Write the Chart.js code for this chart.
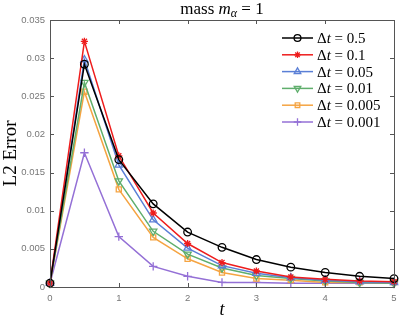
<!DOCTYPE html>
<html>
<head>
<meta charset="utf-8">
<script src="https://cdn.jsdelivr.net/npm/chart.js@4.4.1/dist/chart.umd.min.js"></script>
<style>
  html, body { margin: 0; padding: 0; background: #fff; }
  #wrap { width: 399px; height: 322px; }
</style>
</head>
<body>
<div id="wrap"><canvas id="chart" width="399" height="322"></canvas></div>
<script>
// time points
const tValues = [0, 0.5, 1, 1.5, 2, 2.5, 3, 3.5, 4, 4.5, 5];

// L2 error for each step size
const err05   = [0.0005, 0.0292, 0.0167, 0.0109, 0.0072, 0.0052, 0.0036, 0.0026, 0.0019, 0.0014, 0.0011];
const err01   = [0.0005, 0.0322, 0.0172, 0.0097, 0.0057, 0.0032, 0.0021, 0.0013, 0.0010, 0.0008, 0.0007];
const err005  = [0.0005, 0.0298, 0.0160, 0.0088, 0.0051, 0.0028, 0.0018, 0.0012, 0.0009, 0.0007, 0.0006];
const err001  = [0.0005, 0.0268, 0.0139, 0.0073, 0.0043, 0.0025, 0.0015, 0.0011, 0.0008, 0.0006, 0.0005];
const err0005 = [0.0005, 0.0256, 0.0128, 0.0065, 0.0037, 0.0019, 0.0011, 0.0009, 0.0006, 0.0006, 0.0006];
const err0001 = [0.0005, 0.0176, 0.0066, 0.0027, 0.0014, 0.0006, 0.0006, 0.0005, 0.0005, 0.0005, 0.0005];

const stepLabels = ["0.5", "0.1", "0.05", "0.01", "0.005", "0.001"];
const xTicks = [0, 1, 2, 3, 4, 5];
const yTicks = [0, 0.005, 0.01, 0.015, 0.02, 0.025, 0.03, 0.035];

const seriesList = [err05, err01, err005, err001, err0005, err0001];
const colors = ["#000000", "#ee1c1c", "#5a7fd6", "#5fae6c", "#f5a442", "#9470d6"];
const markers = ["circle", "star", "triangle", "triangle", "rect", "cross"];
const rotations = [0, 0, 0, 180, 0, 0];
const radii = [3.8, 3.6, 4.2, 4.2, 3.6, 4.2];

const serif = "'Liberation Serif', 'DejaVu Serif', serif";
const tickFont = "'Liberation Sans', Arial, sans-serif";

const datasets = seriesList.map((vals, i) => ({
  label: "Δt = " + stepLabels[i],
  data: vals.map((v, j) => ({ x: tValues[j], y: v })),
  borderColor: colors[i],
  backgroundColor: "rgba(0,0,0,0)",
  pointBackgroundColor: "rgba(0,0,0,0)",
  pointBorderColor: colors[i],
  pointStyle: markers[i],
  pointRotation: rotations[i],
  pointRadius: radii[i],
  pointBorderWidth: 1.3,
  borderWidth: 1.5,
  tension: 0,
  clip: false
}));

// box around plot area with inward ticks, title and legend
const decorations = {
  id: "decorations",
  afterDatasetsDraw(chart) {
    const ctx = chart.ctx;
    const a = chart.chartArea;
    const xs = chart.scales.x, ys = chart.scales.y;
    ctx.save();
    ctx.strokeStyle = "#555";
    ctx.lineWidth = 1;
    ctx.strokeRect(Math.round(a.left) + 0.5, Math.round(a.top) + 0.5,
      Math.round(a.right - a.left), Math.round(a.bottom - a.top));
    ctx.beginPath();
    xTicks.forEach(v => {
      const px = Math.round(xs.getPixelForValue(v)) + 0.5;
      ctx.moveTo(px, a.bottom); ctx.lineTo(px, a.bottom - 4);
      ctx.moveTo(px, a.top); ctx.lineTo(px, a.top + 4);
    });
    yTicks.forEach(v => {
      const py = Math.round(ys.getPixelForValue(v)) + 0.5;
      ctx.moveTo(a.left, py); ctx.lineTo(a.left + 4, py);
      ctx.moveTo(a.right, py); ctx.lineTo(a.right - 4, py);
    });
    ctx.stroke();

    // title: mass m_α = 1
    ctx.fillStyle = "#000";
    ctx.textBaseline = "alphabetic";
    const parts = [
      { t: "mass ", f: "17px " + serif, dy: 0 },
      { t: "m", f: "italic 17px " + serif, dy: 0 },
      { t: "α", f: "italic 12px " + serif, dy: 3 },
      { t: " = 1", f: "17px " + serif, dy: 0 }
    ];
    let total = 0;
    parts.forEach(p => { ctx.font = p.f; p.w = ctx.measureText(p.t).width; total += p.w; });
    let tx = (a.left + a.right) / 2 - total / 2;
    parts.forEach(p => {
      ctx.font = p.f;
      ctx.fillText(p.t, tx, 14 + p.dy);
      tx += p.w;
    });

    // legend
    const lx0 = 282, lx1 = 313, ly0 = 38, dyRow = 16.8;
    chart.data.datasets.forEach((ds, i) => {
      const y = ly0 + i * dyRow;
      ctx.strokeStyle = colors[i];
      ctx.lineWidth = 1.5;
      ctx.beginPath();
      ctx.moveTo(lx0, y); ctx.lineTo(lx1, y);
      ctx.stroke();
      ctx.fillStyle = "rgba(0,0,0,0)";
      ctx.lineWidth = 1.3;
      Chart.helpers.drawPoint(ctx, {
        pointStyle: markers[i], radius: radii[i] * 0.9, rotation: rotations[i], borderWidth: 1.3
      }, (lx0 + lx1) / 2, y);
      ctx.fillStyle = "#000";
      ctx.textBaseline = "middle";
      let x = 317;
      const segs = [
        { t: "Δ", f: "15px " + serif },
        { t: "t", f: "italic 15px " + serif },
        { t: " = " + stepLabels[i], f: "15px " + serif }
      ];
      segs.forEach(s => {
        ctx.font = s.f;
        ctx.fillText(s.t, x, y + 1);
        x += ctx.measureText(s.t).width;
      });
    });
    ctx.restore();
  }
};

new Chart(document.getElementById("chart"), {
  type: "line",
  data: { datasets: datasets },
  options: {
    responsive: false,
    animation: false,
    layout: { autoPadding: false, padding: { top: 20, right: 5, left: 0, bottom: 0 } },
    plugins: {
      legend: { display: false },
      title: { display: false },
      tooltip: { enabled: false }
    },
    scales: {
      x: {
        type: "linear",
        min: 0,
        max: 5,
        grid: { display: false, drawTicks: false, tickLength: 0 },
        border: { display: false },
        afterBuildTicks: s => { s.ticks = xTicks.map(v => ({ value: v })); },
        afterFit: s => { s.height = 35; s.paddingRight = 3; s.paddingLeft = 3; },
        ticks: {
          padding: 6,
          color: "#777",
          font: { family: tickFont, size: 9.5 },
          maxRotation: 0,
          callback: v => String(v)
        },
        title: {
          display: true,
          text: "t",
          color: "#000",
          font: { family: serif, size: 18, style: "italic" },
          padding: { top: 0, bottom: 1 }
        }
      },
      y: {
        min: 0,
        max: 0.035,
        grid: { display: false, drawTicks: false, tickLength: 0 },
        border: { display: false },
        afterBuildTicks: s => { s.ticks = yTicks.map(v => ({ value: v })); },
        afterFit: s => { s.width = 50; },
        ticks: {
          padding: 5,
          color: "#777",
          font: { family: tickFont, size: 9.5 },
          callback: v => String(+v.toFixed(3))
        },
        title: {
          display: true,
          text: "L2 Error",
          color: "#000",
          font: { family: serif, size: 19 },
          padding: { top: 0, bottom: 0 }
        }
      }
    }
  },
  plugins: [decorations]
});
</script>
</body>
</html>
